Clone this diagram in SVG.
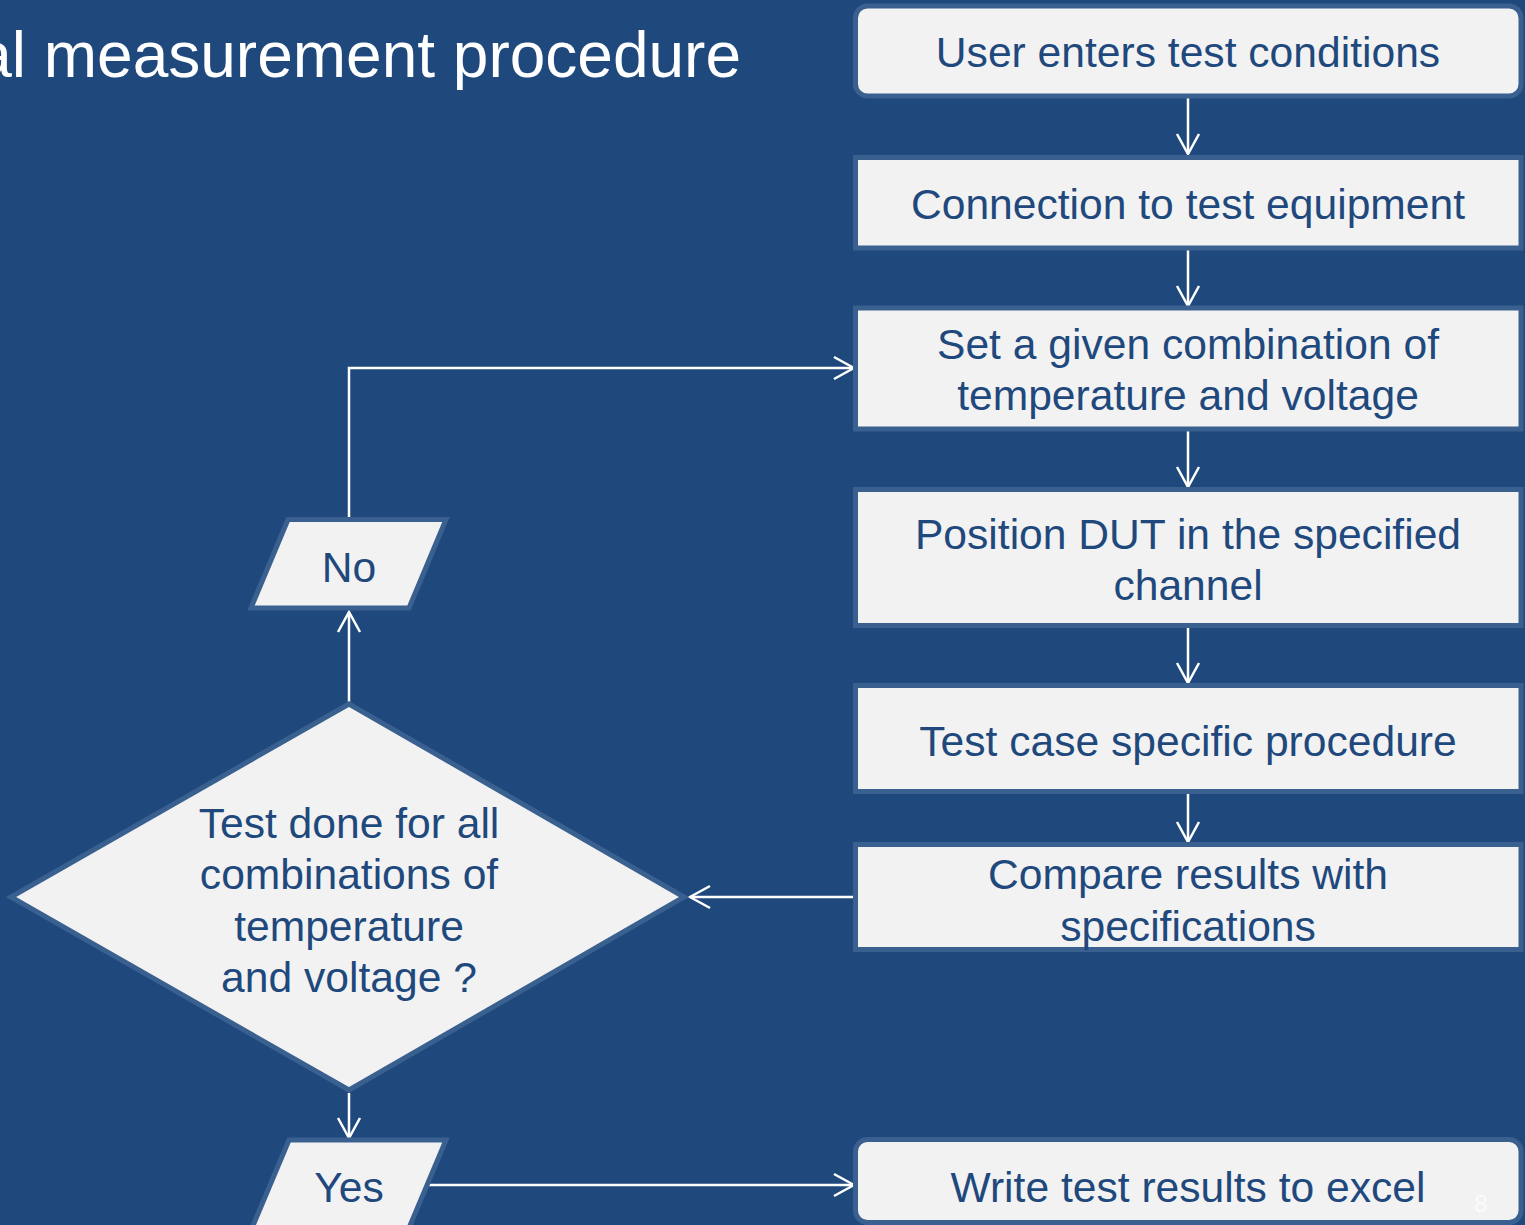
<svg xmlns="http://www.w3.org/2000/svg" width="1525" height="1225" viewBox="0 0 1525 1225">
<defs>
<style>
.bg{fill:#1F497D}
.box{fill:#F2F2F2;stroke:#3A6090;stroke-width:5}
.lbl{font-family:"Liberation Sans",Arial,sans-serif;font-size:42.6px;fill:#1F497D;text-anchor:middle}
.title{font-family:"Liberation Sans",Arial,sans-serif;font-size:64px;fill:#FFFFFF;text-anchor:end}
.conn{fill:none;stroke:#FFFFFF;stroke-width:2.5}
.pg{font-family:"Liberation Sans",Arial,sans-serif;font-size:24px;fill:#FFFFFF;fill-opacity:0.75;text-anchor:middle}
</style>
<marker id="ah" viewBox="-23 -13 25 26" markerWidth="25" markerHeight="26" refX="0" refY="0" orient="auto" markerUnits="userSpaceOnUse">
<path d="M-20,-11 L0,0 L-20,11" fill="none" stroke="#FFFFFF" stroke-width="2.5"/>
</marker>
</defs>
<rect class="bg" x="0" y="0" width="1525" height="1225"/>
<text class="title" x="741" y="77">al measurement procedure</text>

<g id="connectors">
<line class="conn" x1="1188" y1="97" x2="1188" y2="154" marker-end="url(#ah)"/>
<line class="conn" x1="1188" y1="250" x2="1188" y2="306" marker-end="url(#ah)"/>
<line class="conn" x1="1188" y1="431" x2="1188" y2="487" marker-end="url(#ah)"/>
<line class="conn" x1="1188" y1="627" x2="1188" y2="683" marker-end="url(#ah)"/>
<line class="conn" x1="1188" y1="793" x2="1188" y2="842" marker-end="url(#ah)"/>
<line class="conn" x1="856" y1="897" x2="690" y2="897" marker-end="url(#ah)"/>
<line class="conn" x1="349" y1="703" x2="349" y2="612" marker-end="url(#ah)"/>
<polyline class="conn" points="349,518 349,368 854,368" marker-end="url(#ah)"/>
<line class="conn" x1="349" y1="1093" x2="349" y2="1138" marker-end="url(#ah)"/>
<line class="conn" x1="427" y1="1185" x2="854" y2="1185" marker-end="url(#ah)"/>
</g>

<g id="n1">
<rect class="box" x="855.5" y="6" width="665.5" height="90" rx="12"/>
<text class="lbl" x="1188" y="67">User enters test conditions</text>
</g>
<g id="n2">
<rect class="box" x="855.5" y="157.5" width="665.5" height="90.5"/>
<text class="lbl" x="1188" y="219">Connection to test equipment</text>
</g>
<g id="n3">
<rect class="box" x="855.5" y="308" width="665.5" height="121"/>
<text class="lbl" x="1188" y="359">Set a given combination of</text>
<text class="lbl" x="1188" y="410">temperature and voltage</text>
</g>
<g id="n4">
<rect class="box" x="855.5" y="489.5" width="665.5" height="136"/>
<text class="lbl" x="1188" y="549">Position DUT in the specified</text>
<text class="lbl" x="1188" y="600">channel</text>
</g>
<g id="n5">
<rect class="box" x="855.5" y="685.5" width="665.5" height="106"/>
<text class="lbl" x="1188" y="756">Test case specific procedure</text>
</g>
<g id="n6">
<rect class="box" x="855.5" y="844.5" width="665.5" height="105"/>
<text class="lbl" x="1188" y="889">Compare results with</text>
<text class="lbl" x="1188" y="941">specifications</text>
</g>
<g id="n7">
<rect class="box" x="855.5" y="1139.5" width="665.5" height="83" rx="12"/>
<text class="lbl" x="1188" y="1202">Write test results to excel</text>
<text class="pg" x="1481" y="1212">8</text>
</g>
<g id="decision">
<polygon class="box" points="349,704 684,897 349,1090 11,897"/>
<text class="lbl" x="349" y="838">Test done for all</text>
<text class="lbl" x="349" y="889">combinations of</text>
<text class="lbl" x="349" y="941">temperature</text>
<text class="lbl" x="349" y="992">and voltage ?</text>
</g>
<g id="no">
<polygon class="box" points="288,519.5 446,519.5 409,608 251,608"/>
<text class="lbl" x="349" y="582">No</text>
</g>
<g id="yes">
<polygon class="box" points="289,1140 446,1140 409,1228 252,1228"/>
<text class="lbl" x="349" y="1202">Yes</text>
</g>
</svg>
